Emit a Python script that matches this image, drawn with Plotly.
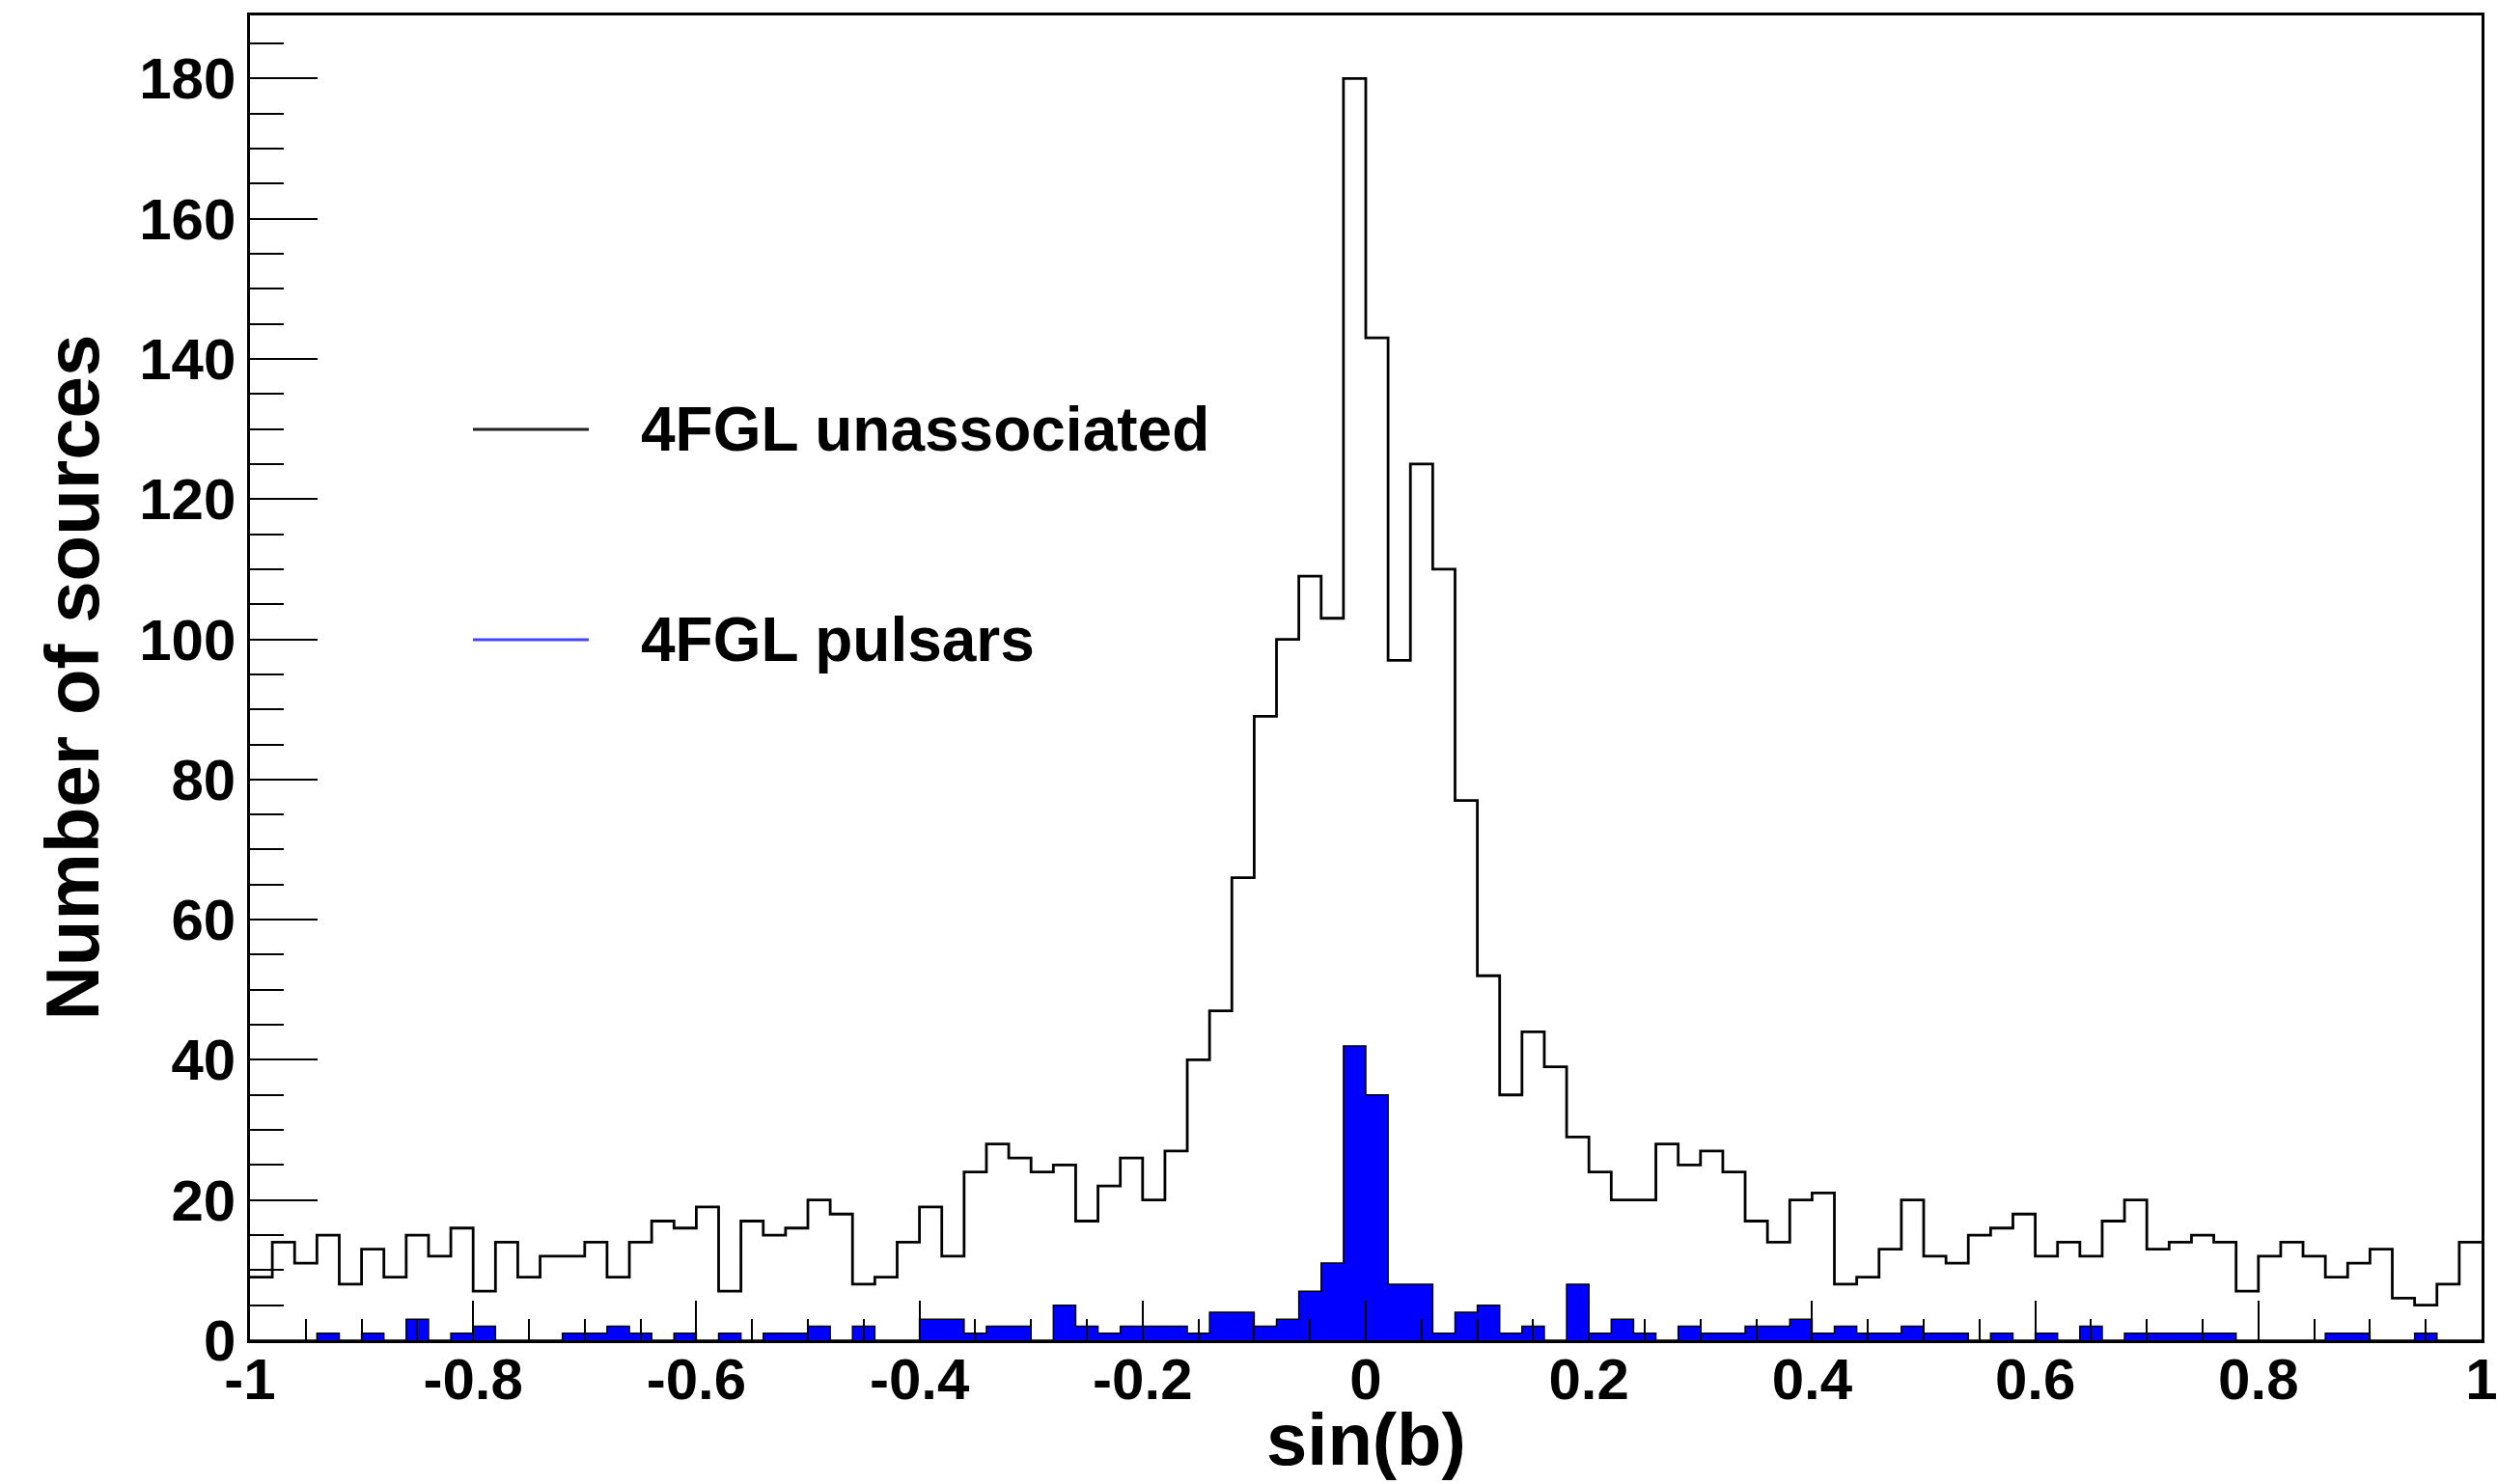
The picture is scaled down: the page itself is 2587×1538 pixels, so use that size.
import numpy as np
import plotly.graph_objects as go

# ---- data: 100 bins of sin(b) from -1 to 1 ----
x_min, x_max, n_bins = -1.0, 1.0, 100

unassociated = [
    9, 14, 11, 15, 8, 13, 9, 15, 12, 16,
    7, 14, 9, 12, 12, 14, 9, 14, 17, 16,
    19, 7, 17, 15, 16, 20, 18, 8, 9, 14,
    19, 12, 24, 28, 26, 24, 25, 17, 22, 26,
    20, 27, 40, 47, 66, 89, 100, 109, 103, 180,
    143, 97, 125, 110, 77, 52, 35, 44, 39, 29,
    24, 20, 20, 28, 25, 27, 24, 17, 14, 20,
    21, 8, 9, 13, 20, 12, 11, 15, 16, 18,
    12, 14, 12, 17, 20, 13, 14, 15, 14, 7,
    12, 14, 12, 9, 11, 13, 6, 5, 8, 14,
]

pulsars = [
    0, 0, 0, 1, 0, 1, 0, 3, 0, 1,
    2, 0, 0, 0, 1, 1, 2, 1, 0, 1,
    0, 1, 0, 1, 1, 2, 0, 2, 0, 0,
    3, 3, 1, 2, 2, 0, 5, 2, 1, 2,
    2, 2, 1, 4, 4, 2, 3, 7, 11, 42,
    35, 8, 8, 1, 4, 5, 1, 2, 0, 8,
    1, 3, 1, 0, 2, 1, 1, 2, 2, 3,
    1, 2, 1, 1, 2, 1, 1, 0, 1, 0,
    1, 0, 2, 0, 1, 1, 1, 1, 1, 0,
    0, 0, 0, 1, 1, 0, 0, 1, 0, 0,
]

series_names = ["4FGL unassociated", "4FGL pulsars"]
x_title = "sin(b)"
y_title = "Number of sources"
x_tickvals = [-1, -0.8, -0.6, -0.4, -0.2, 0, 0.2, 0.4, 0.6, 0.8, 1]
x_ticktext = ["-1", "-0.8", "-0.6", "-0.4", "-0.2", "0", "0.2", "0.4", "0.6", "0.8", "1"]
y_tickvals = [0, 20, 40, 60, 80, 100, 120, 140, 160, 180]
y_ticktext = ["0", "20", "40", "60", "80", "100", "120", "140", "160", "180"]

edges = np.linspace(x_min, x_max, n_bins + 1)

def step_y(vals):
    return list(vals) + [vals[-1]]

fig = go.Figure()

fig.add_trace(go.Scatter(
    x=edges, y=step_y(unassociated), mode="lines",
    line=dict(shape="hv", color="black", width=2.8),
    name=series_names[0], showlegend=False,
))
fig.add_trace(go.Scatter(
    x=edges, y=step_y(pulsars), mode="lines",
    line=dict(shape="hv", color="black", width=1.5),
    fill="tozeroy", fillcolor="#0000ff",
    name=series_names[1], showlegend=False,
))

W, H = 2587, 1538
L, R, T, B = 259, 16, 16, 149
pw, ph = W - L - R, H - T - B

def px(xpix):
    return (xpix - L) / pw

def py(ypix):
    return (H - B - ypix) / ph

font_bold = dict(family="Liberation Sans", color="black", weight="bold")

fig.update_layout(
    width=W, height=H,
    margin=dict(l=L, r=R, t=T, b=B, pad=0, autoexpand=False),
    paper_bgcolor="white", plot_bgcolor="white",
    showlegend=False,
    xaxis=dict(
        range=[x_min, x_max], tickmode="array", tickvals=x_tickvals, ticktext=x_ticktext,
        tickangle=0, automargin=False, ticklabeloverflow="allow", ticklabelstandoff=-14,
        ticks="inside", ticklen=41, tickwidth=2, tickcolor="black",
        minor=dict(dtick=0.05, tick0=-1, ticks="inside", ticklen=22, tickwidth=2, tickcolor="black"),
        showline=True, linecolor="black", linewidth=2.5, mirror=True,
        showgrid=False, zeroline=False,
        tickfont=dict(size=60, **font_bold),
    ),
    yaxis=dict(
        range=[0, 189], tickmode="array", tickvals=y_tickvals, ticktext=y_ticktext,
        automargin=False, ticklabeloverflow="allow",
        ticks="inside", ticklen=70, tickwidth=2, tickcolor="black",
        minor=dict(dtick=5, tick0=0, ticks="inside", ticklen=35, tickwidth=2, tickcolor="black"),
        showline=True, linecolor="black", linewidth=2.5, mirror=True,
        showgrid=False, zeroline=False,
        tickfont=dict(size=60, **font_bold),
    ),
)

annotations = [
    dict(text=x_title, xref="paper", yref="paper", x=0.5, y=py(1491),
         xanchor="center", yanchor="middle", showarrow=False,
         font=dict(size=76, **font_bold)),
    dict(text=y_title, xref="paper", yref="paper", x=px(74), y=0.5,
         xanchor="center", yanchor="middle", textangle=-90, showarrow=False,
         font=dict(size=78, **font_bold)),
]
legend_colors = ["#222222", "#4444ff"]
legend_y = [445, 663]
shapes = []
for name, col, yy in zip(series_names, legend_colors, legend_y):
    shapes.append(dict(type="line", xref="paper", yref="paper",
                       x0=px(490), x1=px(610), y0=py(yy), y1=py(yy),
                       line=dict(color=col, width=3)))
    annotations.append(dict(text=name, xref="paper", yref="paper",
                            x=px(662), y=py(yy), xanchor="left", yanchor="middle",
                            showarrow=False, font=dict(size=64, **font_bold)))

fig.update_layout(annotations=annotations, shapes=shapes)

fig.write_html("out.html")
